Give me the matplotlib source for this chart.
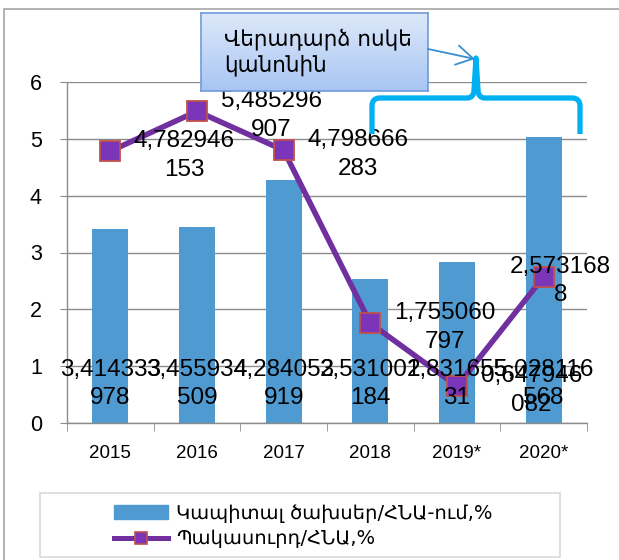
import numpy as np
import matplotlib
matplotlib.use("Agg")
import matplotlib.pyplot as plt
from matplotlib.patches import Rectangle, PathPatch, Patch, FancyArrowPatch
from matplotlib.lines import Line2D
from matplotlib.path import Path
from matplotlib.colors import LinearSegmentedColormap

# data
years = ["2015", "2016", "2017", "2018", "2019*", "2020*"]
capex = [3.414333978, 3.455934509, 4.284053919, 2.531001184, 2.83165531, 5.028116568]
deficit = [4.782946153, 5.485296907, 4.798666283, 1.755060797, 0.647946082, 2.5731688]
bar_name = "Կապիտալ ծախսեր/ՀՆԱ-ում,%"
line_name = "Պակասուրդ/ՀՆԱ,%"
callout = "Վերադարձ ոսկե\nկանոնին"

W, H = 619, 560
BAR = "#4F9BD1"
PURPLE = "#7030A0"
GRID = "#8C8C8C"
NUM_FONT = "Liberation Sans"
ARM_FONT = "DejaVu Sans"


def fx(x):
    return x / W


def fy(y):
    return 1 - y / H


def wrap(v):
    s = repr(v).replace(".", ",")
    return s[:8] + "\n" + s[8:] if len(s) > 8 else s


fig = plt.figure(figsize=(W / 100, H / 100), dpi=100)

# outer chart border
fig.add_artist(Rectangle((fx(4), -0.1), 2, fy(9) + 0.1, transform=fig.transFigure,
                         fill=False, ec="#A6A6A6", lw=1.2, clip_on=False))

ax = fig.add_axes([fx(67), fy(423), fx(587) - fx(67), fy(82) - fy(423)])
x = np.arange(len(years))
ax.bar(x, capex, width=0.415, color=BAR, zorder=2)
ax.plot(x, deficit, color=PURPLE, lw=4, marker="s", ms=14,
        mfc="#7B35B8", mec="#C0504D", mew=1.3, zorder=3)

ax.set_xlim(-0.5, 5.5)
ax.set_ylim(0, 6)
ax.set_yticks(range(7))
ax.yaxis.grid(True, color=GRID, lw=1)
ax.set_axisbelow(True)
for s in ["top", "right"]:
    ax.spines[s].set_visible(False)
for s in ["left", "bottom"]:
    ax.spines[s].set_color(GRID)
    ax.spines[s].set_linewidth(1)

ax.set_xticks(x)
ax.set_xticklabels(years, fontsize=13.5, family=NUM_FONT)
ax.set_xticks(np.arange(-0.5, 6, 1), minor=True)
ax.tick_params(axis="x", which="major", length=0, pad=16)
ax.tick_params(axis="x", which="minor", length=6, color=GRID, direction="out")
ax.tick_params(axis="y", length=5, color=GRID, pad=13, labelsize=15.5)
for t in ax.get_yticklabels():
    t.set_family(NUM_FONT)

# bar labels (inside base)
for xi, v in zip(x, capex):
    ax.annotate(wrap(v), (xi, 0), xytext=(0, 28), textcoords="offset points",
                ha="center", va="center", fontsize=17.5, family=NUM_FONT,
                linespacing=1.38, multialignment="center", zorder=4)

# line labels (right of point)
for i, (xi, v) in enumerate(zip(x, deficit)):
    if i == len(deficit) - 1:
        off, ha = (12, -3), "center"
    else:
        off, ha = (17, -3), "left"
    ax.annotate(wrap(v), (xi, v), xytext=off, textcoords="offset points",
                ha=ha, va="center", fontsize=17.5, family=NUM_FONT,
                linespacing=1.38, multialignment="center", zorder=4)

# legend with separate frame
fig.add_artist(Rectangle((fx(40), fy(557)), fx(560) - fx(40), fy(493) - fy(557),
                         transform=fig.transFigure, fill=False, ec="#D9D9D9", lw=1.2))
handles = [Patch(color=BAR),
           Line2D([], [], color=PURPLE, lw=3.6, marker="s", ms=9,
                  mfc="#7B35B8", mec="#C0504D", mew=1.2)]
fig.legend(handles, [bar_name, line_name], loc="center",
           bbox_to_anchor=(fx(303), fy(526)), frameon=False,
           prop={"family": ARM_FONT, "size": 14}, handlelength=2.8,
           handleheight=0.72, handletextpad=0.4, labelspacing=0.35, borderpad=0)

# callout box with gradient
bx = fig.add_axes([fx(201), fy(91), fx(428) - fx(201), fy(13) - fy(91)])
cmap = LinearSegmentedColormap.from_list("box", ["#DDE9FA", "#A8C5F3"])
bx.imshow(np.linspace(0, 1, 100).reshape(-1, 1), cmap=cmap, aspect="auto",
          extent=(0, 1, 0, 1))
bx.set_xticks([])
bx.set_yticks([])
for s in bx.spines.values():
    s.set_color("#6F9BD8")
    s.set_linewidth(1.2)
bx.text(0.1, 0.5, callout, ha="left", va="center", fontsize=15.5, family=ARM_FONT,
        linespacing=1.3, transform=bx.transAxes)

# arrow from box to brace
fig.add_artist(FancyArrowPatch((fx(428), fy(49)), (fx(475), fy(59)),
                               transform=fig.transFigure, arrowstyle="->,head_length=0.6,head_width=0.35",
                               mutation_scale=20, color="#3B8ED0", lw=1.3,
                               shrinkA=0, shrinkB=0))

# curly brace
pts = [(372, 134), (372, 106), (372, 98), (380, 98), (467, 98), (474, 98), (474, 90),
       (476, 58), (478, 90), (478, 98), (485, 98), (572, 98), (580, 98), (580, 106),
       (580, 134)]
codes = [Path.MOVETO, Path.LINETO, Path.CURVE3, Path.CURVE3, Path.LINETO, Path.CURVE3,
         Path.CURVE3, Path.LINETO, Path.LINETO, Path.CURVE3, Path.CURVE3, Path.LINETO,
         Path.CURVE3, Path.CURVE3, Path.LINETO]
brace = Path([(fx(a), fy(b)) for a, b in pts], codes)
fig.add_artist(PathPatch(brace, transform=fig.transFigure, fill=False,
                         ec="#00B0F0", lw=3.8, joinstyle="round", capstyle="butt"))

fig.savefig("out.png", dpi=100)
